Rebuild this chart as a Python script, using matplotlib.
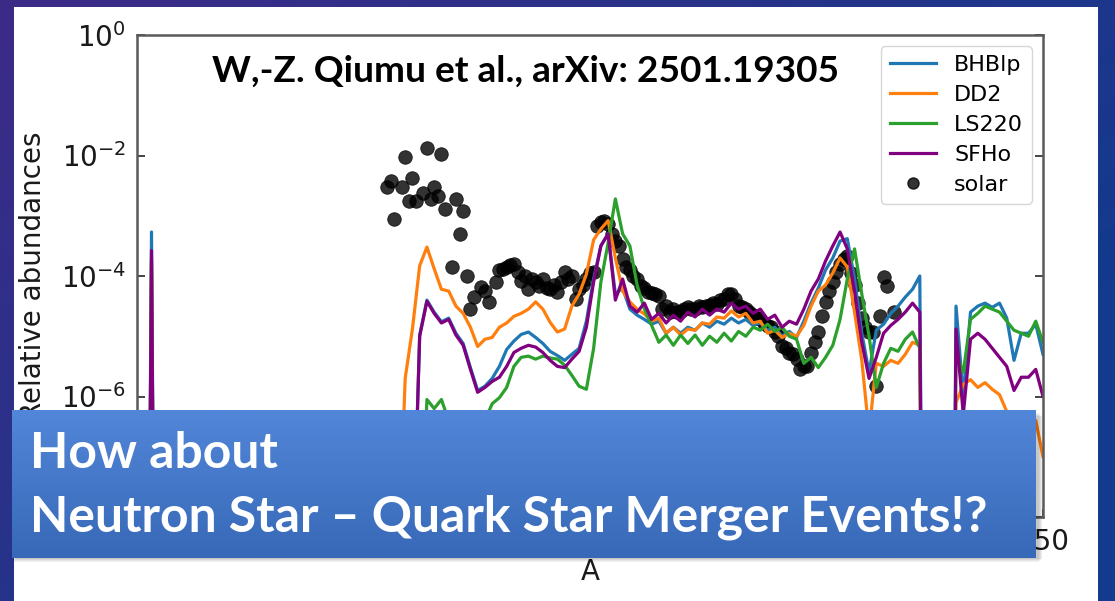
import matplotlib
matplotlib.use("Agg")
import matplotlib.pyplot as plt
import numpy as np
from matplotlib.lines import Line2D
from matplotlib.patches import Rectangle
from matplotlib.ticker import NullLocator

W, H = 1115, 601

# mass numbers of the model curves: the light spike, then the heavy range
SPIKE_A = [3, 4, 5]
MASS_A = list(range(70, 217, 2)) + [217, 225] + list(range(226, 251, 2))

# log10 of relative abundance
BHBLP_SPIKE = [-12, -3.27, -12]
DD2_SPIKE = [-12, -3.70, -12]
LS220_SPIKE = [-12, -3.75, -12]
SFHO_SPIKE = [-12, -3.58, -12]

DD2_LOG = [
    -9, -9, -5.7, -4.88, -3.83, -3.52, -3.88, -4.22, -4.25, -4.5,
    -4.62, -4.85, -5.17, -5.05, -5.02, -4.85, -4.78, -4.67, -4.62, -4.55,
    -4.43, -4.55, -4.77, -4.93, -4.88, -4.5, -4.3, -3.97, -3.4, -3.22,
    -3.08, -3.7, -4.25, -4.43, -4.55, -4.63, -4.75, -4.7, -4.95, -4.85,
    -4.98, -4.88, -4.9, -4.78, -4.8, -4.68, -4.7, -4.58, -4.68, -4.62,
    -4.78, -4.75, -4.95, -4.9, -5.02, -4.95, -5.0, -4.82, -4.5, -4.25,
    -4.15, -3.95, -3.7, -3.85, -4.6, -5.4, -6.6, -5.45, -5.5, -5.4,
    -5.45, -5.3, -5.1, -5.15,
    -12, -12,
    -6.1, -5.8, -5.72, -5.85, -5.77, -5.88, -5.97, -6.25, -6.55, -6.7,
    -6.8, -6.4, -7.0,
]
BHBLP_LOG = [
    -9, -9, -9, -9, -4.98, -4.4, -4.6, -4.76, -4.7, -4.95,
    -5.12, -5.52, -5.9, -5.83, -5.7, -5.5, -5.22, -5.08, -4.97, -4.93,
    -5.02, -5.12, -5.25, -5.32, -5.4, -5.3, -5.2, -4.75, -4.05, -3.5,
    -3.3, -4.3, -4.2, -4.55, -4.65, -4.72, -4.8, -4.75, -4.95, -4.85,
    -4.95, -4.85, -4.9, -4.78, -4.85, -4.75, -4.8, -4.7, -4.78, -4.72,
    -4.82, -4.78, -4.9, -4.85, -5.0, -4.92, -5.02, -4.75, -4.45, -4.2,
    -3.9, -3.7, -3.42, -3.38, -4.05, -4.95, -5.6, -4.9, -4.8, -4.62,
    -4.5, -4.35, -4.22, -4.0,
    -12, -12,
    -4.5, -6.0, -4.6, -4.5, -4.45, -4.52, -4.45, -4.7, -5.4, -4.95,
    -4.95, -4.8, -5.3,
]
SFHO_LOG = [
    -9, -9, -9, -9, -5.0, -4.42, -4.62, -4.78, -4.72, -4.98,
    -5.15, -5.55, -5.93, -5.85, -5.75, -5.68, -5.5, -5.27, -5.2, -5.15,
    -5.18, -5.27, -5.4, -5.5, -5.52, -5.38, -5.25, -4.85, -4.1, -3.5,
    -3.3, -4.4, -4.05, -4.5, -4.6, -4.45, -4.72, -4.62, -4.78, -4.65,
    -4.75, -4.6, -4.68, -4.55, -4.65, -4.55, -4.6, -4.45, -4.55, -4.5,
    -4.62, -4.55, -4.72, -4.65, -4.85, -4.75, -4.8, -4.55, -4.25, -4.05,
    -3.75, -3.5, -3.27, -3.55, -4.25, -5.1, -5.7, -5.35, -4.95, -4.82,
    -4.72, -4.6, -4.45, -4.6,
    -12, -12,
    -4.88, -6.3, -5.05, -4.95, -5.05, -5.2, -5.35, -5.5, -5.9, -5.68,
    -5.68, -5.55, -6.0,
]
LS220_LOG = [
    -9, -9, -9, -9, -9, -6.05, -6.2, -6.05, -6.4, -6.9,
    -7.1, -7.3, -7.0, -6.4, -6.12, -6.02, -5.85, -5.5, -5.35, -5.33,
    -5.38, -5.33, -5.36, -5.38, -5.48, -5.65, -5.83, -5.88, -5.2, -4.1,
    -3.45, -2.72, -3.3, -3.5, -4.15, -4.55, -4.82, -5.1, -4.98, -5.15,
    -4.98, -5.12, -4.98, -5.15, -5.0, -5.1, -4.95, -5.08, -4.92, -5.0,
    -4.85, -4.9, -4.8, -4.92, -4.85, -5.0, -5.05, -5.45, -5.35, -5.52,
    -5.35, -5.15, -4.72, -4.05, -3.55, -4.3, -5.0, -5.85, -5.45, -5.2,
    -5.25, -5.05, -4.93, -5.2,
    -12, -12,
    -5.3, -5.6, -4.72, -4.62, -4.5, -4.55, -4.6, -4.75, -4.9, -4.95,
    -5.0, -4.75, -5.1,
]

SOLAR_A = [
    69, 70, 71, 73, 74, 75, 76, 77, 79, 80, 81, 82, 83, 84, 85, 87, 88, 89, 90,
    91, 92, 93, 95, 96, 97, 99, 100, 101, 102, 103, 104, 105, 106, 107, 108,
    109, 110, 111, 112, 113, 114, 115, 116, 117, 118, 119, 120, 121, 122, 123,
    124, 125, 126, 127, 128, 129, 130, 131, 132, 133, 134, 135, 136, 137, 138,
    139, 140, 141, 142, 143, 144, 145, 146, 147, 148, 149, 150, 151, 152, 153,
    154, 155, 156, 157, 158, 159, 160, 161, 162, 163, 164, 165, 166, 167, 168,
    169, 170, 171, 172, 173, 174, 175, 176, 177, 178, 179, 180, 181, 182, 183,
    184, 185, 186, 187, 188, 189, 190, 191, 192, 193, 194, 195, 196, 197, 198,
    199, 200, 201, 202, 203, 204, 205, 206, 207, 209,
]
SOLAR_LOG = [
    -2.52, -2.43, -3.05, -2.52, -2.03, -2.75, -2.38, -2.75, -2.63, -1.88,
    -2.72, -2.52, -2.68, -1.97, -2.88, -3.85, -2.72, -3.3, -2.92,
    -4.0, -4.55, -4.35, -4.18, -4.25, -4.43, -4.1, -3.9, -3.88, -3.85,
    -3.82, -3.8, -3.93, -4.08, -4.0, -4.22, -4.05, -4.1, -4.17, -4.05,
    -4.2, -4.22, -4.15, -4.27, -4.1, -3.93, -4.05, -4.0, -4.38, -4.22,
    -4.15, -4.05, -3.95, -3.93, -3.17, -3.1, -3.08, -3.13, -3.3, -3.42,
    -3.5, -3.72, -3.85, -3.9, -4.0, -4.05, -4.17, -4.2, -4.27, -4.28,
    -4.3, -4.33, -4.55, -4.5, -4.6, -4.55, -4.6, -4.58, -4.55, -4.52,
    -4.55, -4.55, -4.5, -4.52, -4.5, -4.48, -4.45, -4.47, -4.4, -4.38,
    -4.3, -4.3, -4.38, -4.5, -4.52, -4.55, -4.6, -4.65, -4.7, -4.72,
    -4.78, -4.83, -4.85, -4.93, -5.0, -5.17, -5.2, -5.27, -5.3, -5.38,
    -5.55, -5.5, -5.5, -5.27, -5.1, -4.93, -4.67, -4.43, -4.25, -4.1,
    -3.93, -3.8, -3.72, -3.67, -3.95, -4.15, -4.45, -4.7, -4.85, -4.93,
    -4.93, -5.83, -4.67, -4.02, -4.17, -4.6,
]

SERIES = [
    ("BHBlp", "#1f77b4", BHBLP_SPIKE, BHBLP_LOG),
    ("DD2", "#ff7f0e", DD2_SPIKE, DD2_LOG),
    ("LS220", "#2ca02c", LS220_SPIKE, LS220_LOG),
    ("SFHo", "#800080", SFHO_SPIKE, SFHO_LOG),
]

# only the last x tick label peeks out from under the banner
X_TICKS = [0, 50, 100, 150, 200, 250]
X_TICK_LABELS = ["", "", "", "", "", "250"]
Y_TICKS = [1, 1e-2, 1e-4, 1e-6, 1e-8]
Y_TICK_LABELS = [r"$10^{0}$", r"$10^{-2}$", r"$10^{-4}$", r"$10^{-6}$", ""]

TITLE = "W,-Z. Qiumu et al., arXiv: 2501.19305"
BANNER_LINES = ["How about", "Neutron Star \u2013 Quark Star Merger Events!?"]


def fit_width(text, target_px):
    renderer = text.figure.canvas.get_renderer()
    width = text.get_window_extent(renderer).width
    text.set_fontsize(text.get_fontsize() * target_px / width)


fig = plt.figure(figsize=(W / 100, H / 100), dpi=100)

# slide background with the white panel
bg = fig.add_axes([0, 0, 1, 1], label="slide")
yy, xx = np.mgrid[0:H, 0:W]
t = np.clip(0.75 * xx / W + 0.55 * yy / H, 0, 1)[..., None]
purple = np.array([0x3d, 0x2b, 0x86]) / 255
blue = np.array([0x12, 0x3a, 0x8e]) / 255
bg.imshow(purple * (1 - t) + blue * t, extent=[0, W, H, 0], aspect="auto")
bg.add_patch(Rectangle((14, 7), 1084, 600, facecolor="white", edgecolor="none"))
bg.set_xlim(0, W)
bg.set_ylim(H, 0)
bg.axis("off")

# the abundance plot
ax = fig.add_axes([137 / W, 1 - 517 / H, 906 / W, 482 / H], label="plot")
ax.scatter(SOLAR_A, 10.0 ** np.array(SOLAR_LOG), s=95, color="black",
           alpha=0.8, edgecolors="black", linewidths=0.6, zorder=1)
for name, color, spike, values in SERIES:
    ax.plot(SPIKE_A + MASS_A, 10.0 ** np.array(spike + values), color=color,
            lw=2.3, zorder=2)

ax.set_yscale("log")
ax.set_xlim(0, 250)
ax.set_ylim(1e-8, 1)
ax.set_xticks(X_TICKS, X_TICK_LABELS)
ax.set_yticks(Y_TICKS, Y_TICK_LABELS)
ax.yaxis.set_minor_locator(NullLocator())
ax.tick_params(direction="in", length=6, width=1.4, right=True, labelsize=20,
               pad=8, color="#444444", labelcolor="#1a1a1a")
for spine in ax.spines.values():
    spine.set_color("#5a5a5a")
    spine.set_linewidth(1.8)
ax.set_xlabel("A", fontsize=20, color="#1a1a1a")
ax.set_ylabel("Relative abundances", fontsize=20, color="#1a1a1a")
ax.xaxis.set_label_coords(0.5, -0.085)
ax.yaxis.set_label_coords(-0.099, 0.5)

handles = [Line2D([], [], color=c, lw=2.3) for _, c, _, _ in SERIES]
handles.append(Line2D([], [], ls="none", marker="o", ms=8, color="black", alpha=0.8))
ax.legend(handles, [s[0] for s in SERIES] + ["solar"], loc="upper right",
          fontsize=16, handlelength=2.1, labelspacing=0.45)

# overlay: citation and the slide banner
top = fig.add_axes([0, 0, 1, 1], label="overlay")
top.patch.set_alpha(0)
for i, a in enumerate([0.05, 0.05, 0.06, 0.07]):
    top.add_patch(Rectangle((13 + i, 413 + i), 1026, 149 - 2 * i,
                            facecolor="black", alpha=a, edgecolor="none"))
shade = np.linspace(0, 1, 64)[:, None, None]
top_c = np.array([0x52, 0x86, 0xd8]) / 255
bot_c = np.array([0x38, 0x69, 0xb8]) / 255
top.imshow(top_c * (1 - shade) + bot_c * shade + np.zeros((64, 2, 3)),
           extent=[12, 1036, 558, 410], aspect="auto", zorder=2)
top.set_xlim(0, W)
top.set_ylim(H, 0)
top.axis("off")

title = top.text(525, 82, TITLE, ha="center", va="baseline", fontsize=22,
                 fontweight="bold", family="Lato", color="black", zorder=3)
line1 = top.text(30, 468, BANNER_LINES[0], ha="left", va="baseline",
                 fontsize=33, fontweight="bold", family="Lato", color="white", zorder=3)
line2 = top.text(30, 532, BANNER_LINES[1], ha="left", va="baseline",
                 fontsize=33, fontweight="bold", family="Lato", color="white", zorder=3)
fit_width(title, 625)
fit_width(line2, 960)
line1.set_fontsize(line2.get_fontsize())

fig.savefig("out.png", dpi=100)
